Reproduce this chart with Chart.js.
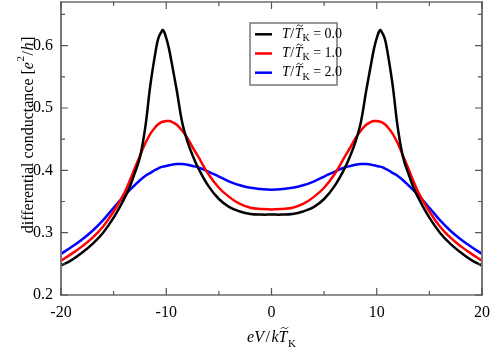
<!DOCTYPE html>
<html>
<head>
<meta charset="utf-8">
<script src="https://cdn.jsdelivr.net/npm/chart.js@4/dist/chart.umd.min.js"></script>
<style>
  html, body { margin: 0; padding: 0; background: #fff; }
</style>
</head>
<body>
<canvas id="chart" width="491" height="349"></canvas>
<script>
// bias voltage eV/kT_K
const energies = [-20, -19, -18, -17, -16, -15, -14, -13.5, -13, -12.5, -12, -11.5, -11, -10.75, -10.5, -10.3, -10, -9.75, -9.5, -9, -8.5, -8, -7.5, -7, -6, -5, -4, -3, -2, -1, 0,
    1, 2, 3, 4, 5, 6, 7, 7.5, 8, 8.5, 9, 9.5, 9.75, 10, 10.3, 10.5, 10.75, 11, 11.5, 12, 12.5, 13, 13.5, 14, 15, 16, 17, 18, 19, 20];

// differential conductance [e^2/h]
const condT0 = [0.247, 0.256, 0.268, 0.282, 0.300, 0.324, 0.354, 0.372, 0.395, 0.421, 0.468, 0.538, 0.592, 0.612, 0.621, 0.625, 0.612, 0.596, 0.574, 0.528, 0.478, 0.447, 0.424, 0.405, 0.375, 0.354, 0.341, 0.334, 0.330, 0.329, 0.329,
    0.329, 0.330, 0.334, 0.341, 0.354, 0.375, 0.405, 0.424, 0.447, 0.478, 0.528, 0.574, 0.596, 0.612, 0.625, 0.621, 0.612, 0.592, 0.538, 0.468, 0.421, 0.395, 0.372, 0.354, 0.324, 0.300, 0.282, 0.268, 0.256, 0.247];
const condT1 = [0.255, 0.266, 0.278, 0.292, 0.310, 0.334, 0.363, 0.382, 0.403, 0.423, 0.443, 0.459, 0.470, 0.474, 0.477, 0.478, 0.479, 0.479, 0.478, 0.473, 0.464, 0.452, 0.437, 0.423, 0.394, 0.372, 0.357, 0.346, 0.340, 0.338, 0.337,
    0.338, 0.340, 0.346, 0.357, 0.372, 0.394, 0.423, 0.437, 0.452, 0.464, 0.473, 0.478, 0.479, 0.479, 0.478, 0.477, 0.474, 0.470, 0.459, 0.443, 0.423, 0.403, 0.382, 0.363, 0.334, 0.310, 0.292, 0.278, 0.266, 0.255];
const condT2 = [0.266, 0.277, 0.289, 0.303, 0.320, 0.340, 0.359, 0.368, 0.376, 0.384, 0.391, 0.396, 0.401, 0.403, 0.405, 0.406, 0.407, 0.408, 0.409, 0.410, 0.410, 0.409, 0.407, 0.405, 0.398, 0.390, 0.382, 0.376, 0.372, 0.370, 0.369,
    0.370, 0.372, 0.376, 0.382, 0.390, 0.398, 0.405, 0.407, 0.409, 0.410, 0.410, 0.409, 0.408, 0.407, 0.406, 0.405, 0.403, 0.401, 0.396, 0.391, 0.384, 0.376, 0.368, 0.359, 0.340, 0.320, 0.303, 0.289, 0.277, 0.266];

const tempLabels = ['0.0', '1.0', '2.0'];
const seriesColors = ['#000000', '#ff0000', '#0000ff'];

const xTicks = [-20, -10, 0, 10, 20];
const xMinorTicks = [-15, -5, 5, 15];
const yTicks = [0.2, 0.3, 0.4, 0.5, 0.6];
const yMinorTicks = [0.25, 0.35, 0.45, 0.55, 0.65];

const SERIF = "'Liberation Serif', 'DejaVu Serif', serif";
const FRAME = '#777777';

function toPoints(ys) {
    return energies.map((x, i) => ({ x: x, y: ys[i] }));
}

// draws a row of text pieces, each piece may have its own font / vertical shift
function drawRuns(ctx, x, y, runs) {
    let cx = x;
    runs.forEach(r => {
        ctx.font = r.font;
        cx += r.dx || 0;
        ctx.fillText(r.t, cx, y + (r.dy || 0));
        const w = ctx.measureText(r.t).width;
        if (r.tilde) drawTilde(ctx, cx + w / 2 + (r.tildeShift || 0), y - r.tilde, r.tildeW);
        cx += w;
    });
    return cx;
}

function runsWidth(ctx, runs) {
    let w = 0;
    runs.forEach(r => { ctx.font = r.font; w += (r.dx || 0) + ctx.measureText(r.t).width; });
    return w;
}

function drawTilde(ctx, cx, cy, w) {
    ctx.save();
    ctx.beginPath();
    ctx.lineWidth = 0.9;
    ctx.strokeStyle = '#000';
    ctx.moveTo(cx - w / 2, cy + 0.7);
    ctx.bezierCurveTo(cx - w / 4, cy - 1.6, cx - w / 8, cy - 0.4, cx, cy);
    ctx.bezierCurveTo(cx + w / 8, cy + 0.4, cx + w / 4, cy + 1.6, cx + w / 2, cy - 0.7);
    ctx.stroke();
    ctx.restore();
}

const decorPlugin = {
    id: 'decor',
    afterDraw(chart) {
        const ctx = chart.ctx;
        const a = chart.chartArea;
        const xs = chart.scales.x, ys = chart.scales.y;
        ctx.save();

        // frame: grey sides, dark top/bottom
        ctx.strokeStyle = FRAME;
        ctx.lineWidth = 2;
        ctx.beginPath();
        ctx.moveTo(a.left, a.top); ctx.lineTo(a.left, a.bottom);
        ctx.moveTo(a.right, a.top); ctx.lineTo(a.right, a.bottom);
        ctx.stroke();
        ctx.strokeStyle = '#222';
        ctx.lineWidth = 1.2;
        ctx.beginPath();
        ctx.moveTo(a.left - 1, a.top); ctx.lineTo(a.right + 1, a.top);
        ctx.moveTo(a.left - 1, a.bottom); ctx.lineTo(a.right + 1, a.bottom);
        ctx.stroke();

        // inward ticks on all four sides
        ctx.strokeStyle = '#555';
        ctx.lineWidth = 1.2;
        ctx.beginPath();
        const xt = (vals, len) => vals.forEach(v => {
            const px = xs.getPixelForValue(v);
            ctx.moveTo(px, a.bottom); ctx.lineTo(px, a.bottom - len);
            ctx.moveTo(px, a.top); ctx.lineTo(px, a.top + len);
        });
        const yt = (vals, len) => vals.forEach(v => {
            const py = ys.getPixelForValue(v);
            ctx.moveTo(a.left, py); ctx.lineTo(a.left + len, py);
            ctx.moveTo(a.right, py); ctx.lineTo(a.right - len, py);
        });
        xt(xTicks, 7); xt(xMinorTicks, 4);
        yt(yTicks, 7); yt(yMinorTicks, 4);
        ctx.stroke();

        ctx.fillStyle = '#000';
        ctx.textBaseline = 'alphabetic';
        ctx.textAlign = 'left';

        // x axis title
        const it16 = 'italic 16px ' + SERIF;
        const rm16 = '16px ' + SERIF;
        const xRuns = [
            { t: 'eV', font: it16 },
            { t: '/', font: rm16, dx: 1.5 },
            { t: 'k', font: it16, dx: 1.5 },
            { t: 'T', font: it16, tilde: 14, tildeShift: 1.5, tildeW: 7 },
            { t: 'K', font: '11px ' + SERIF, dy: 5, dx: 0.5 }
        ];
        const xw = runsWidth(ctx, xRuns);
        drawRuns(ctx, (a.left + a.right) / 2 - xw / 2, 342, xRuns);

        // y axis title
        const yRuns = [
            { t: 'differential conductance [', font: rm16 },
            { t: 'e', font: it16 },
            { t: '2', font: '11px ' + SERIF, dy: -9, dx: 0.5 },
            { t: '/', font: rm16, dx: 0.5 },
            { t: 'h', font: it16, dx: 0.5 },
            { t: ']', font: rm16, dx: 0.5 }
        ];
        const yw = runsWidth(ctx, yRuns);
        ctx.save();
        ctx.translate(33, 135);
        ctx.rotate(-Math.PI / 2);
        drawRuns(ctx, -yw / 2, 0, yRuns);
        ctx.restore();

        // legend
        ctx.fillStyle = '#fff';
        ctx.fillRect(250, 23, 87, 62);
        ctx.strokeStyle = FRAME;
        ctx.lineWidth = 1.5;
        ctx.strokeRect(250, 23, 87, 62);
        const it14 = 'italic 14px ' + SERIF;
        const rm14 = '14px ' + SERIF;
        chart.data.datasets.forEach((ds, i) => {
            const ly = 34.3 + i * 19.2;
            ctx.strokeStyle = ds.borderColor;
            ctx.lineWidth = 2.5;
            ctx.beginPath();
            ctx.moveTo(255, ly); ctx.lineTo(272, ly);
            ctx.stroke();
            ctx.fillStyle = '#000';
            drawRuns(ctx, 282, ly + 3.3, [
                { t: 'T', font: it14 },
                { t: '/', font: rm14, dx: 0.5 },
                { t: 'T', font: it14, dx: 0.5, tilde: 12, tildeShift: 1.2, tildeW: 6 },
                { t: 'K', font: '10px ' + SERIF, dy: 3.5 },
                { t: ' = ', font: rm14 },
                { t: tempLabels[i], font: rm14 }
            ]);
        });
        ctx.restore();
    }
};

const ctx = document.getElementById('chart').getContext('2d');
new Chart(ctx, {
    type: 'line',
    data: {
        datasets: [condT0, condT1, condT2].map((ys, i) => ({
            label: 'T/TK = ' + tempLabels[i],
            data: toPoints(ys),
            borderColor: seriesColors[i],
            borderWidth: 2.5,
            pointRadius: 0,
            fill: false,
            tension: 0.4
        }))
    },
    options: {
        responsive: false,
        animation: false,
        devicePixelRatio: 1,
        layout: { padding: { left: 0, right: 9, top: 2, bottom: 0 } },
        plugins: {
            legend: { display: false },
            tooltip: { enabled: false }
        },
        scales: {
            x: {
                type: 'linear',
                min: -20,
                max: 20,
                afterBuildTicks: s => { s.ticks = xTicks.map(v => ({ value: v })); },
                afterFit: s => {
                    s.height = 54;
                    s.paddingLeft = 0; s.paddingRight = 0;
                },
                grid: { display: false, drawTicks: false },
                border: { display: false },
                ticks: {
                    color: '#000',
                    font: { family: SERIF, size: 16 },
                    padding: 8,
                    maxRotation: 0,
                    autoSkip: false,
                    callback: v => String(v)
                }
            },
            y: {
                type: 'linear',
                min: 0.2,
                max: 0.67,
                afterBuildTicks: s => { s.ticks = yTicks.map(v => ({ value: v })); },
                afterFit: s => {
                    s.width = 61;
                    s.paddingTop = 0; s.paddingBottom = 0;
                },
                grid: { display: false, drawTicks: false },
                border: { display: false },
                ticks: {
                    color: '#000',
                    font: { family: SERIF, size: 16 },
                    padding: 8,
                    callback: v => v.toFixed(1)
                }
            }
        }
    },
    plugins: [decorPlugin]
});
</script>
</body>
</html>
